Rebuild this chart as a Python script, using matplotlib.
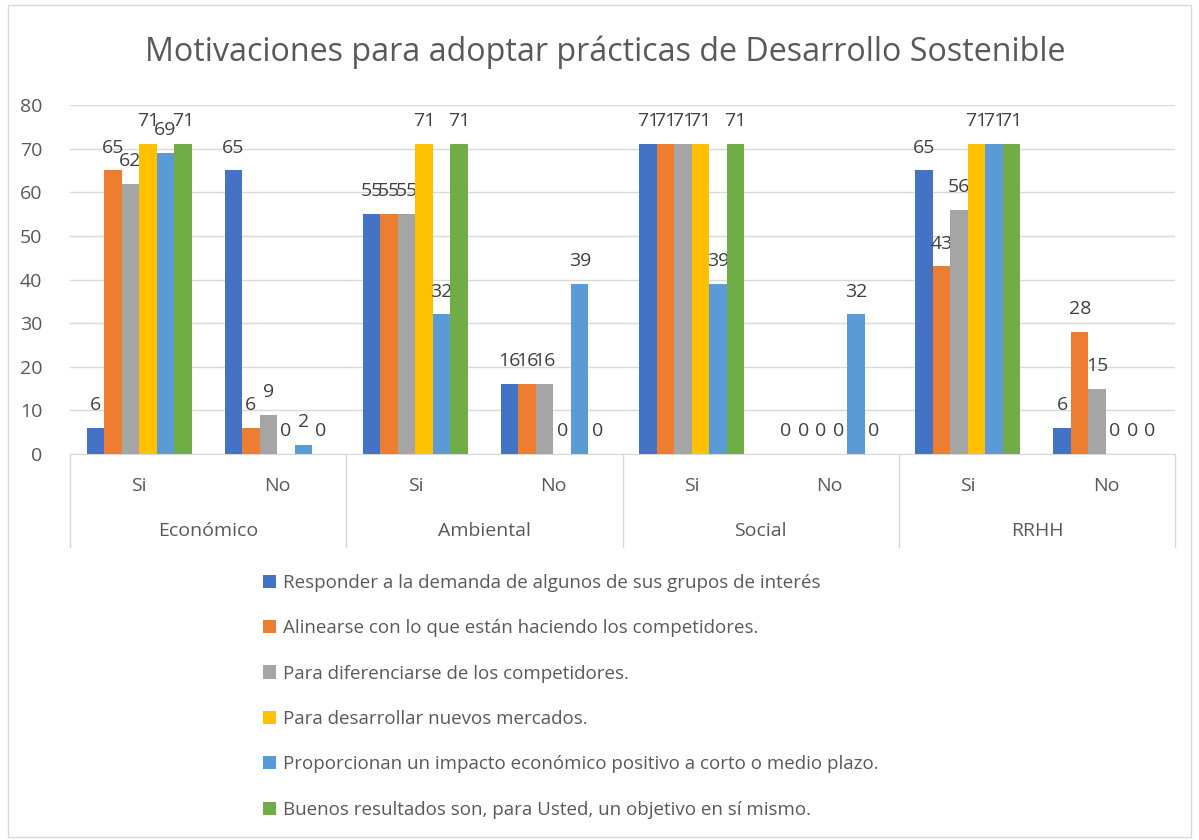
import numpy as np
import matplotlib.pyplot as plt
from matplotlib.patches import Rectangle
from matplotlib.transforms import blended_transform_factory

plt.rcParams['font.family'] = ['Open Sans', 'DejaVu Sans']

# datos
categorias = ['Económico', 'Ambiental', 'Social', 'RRHH']
respuestas = ['Si', 'No']
series = [
    'Responder a la demanda de algunos de sus grupos de interés',
    'Alinearse con lo que están haciendo los competidores.',
    'Para diferenciarse de los competidores.',
    'Para desarrollar nuevos mercados.',
    'Proporcionan un impacto económico positivo a corto o medio plazo.',
    'Buenos resultados son, para Usted, un objetivo en sí mismo.',
]
# orden: Eco Si, Eco No, Amb Si, Amb No, Soc Si, Soc No, RRHH Si, RRHH No
responder = [6, 65, 55, 16, 71, 0, 65, 6]
alinearse = [65, 6, 55, 16, 71, 0, 43, 28]
diferenciarse = [62, 9, 55, 16, 71, 0, 56, 15]
mercados = [71, 0, 71, 0, 71, 0, 71, 0]
impacto = [69, 2, 32, 39, 39, 32, 71, 0]
resultados = [71, 0, 71, 0, 71, 0, 71, 0]
valores = [responder, alinearse, diferenciarse, mercados, impacto, resultados]
colores = ['#4472C4', '#ED7D31', '#A5A5A5', '#FFC000', '#5B9BD5', '#70AD47']

gris = '#595959'

fig = plt.figure(figsize=(11.99, 8.4), dpi=100)
ax = fig.add_axes([0.0584, 0.4595, 0.9216, 0.4155])

x = np.arange(8)
n = len(valores)
w = 0.76 / n
barras = []
for i, (vals, c) in enumerate(zip(valores, colores)):
    b = ax.bar(x + (i - (n - 1) / 2) * w, vals, w, color=c, label=series[i], zorder=3)
    ax.bar_label(b, padding=10, fontsize=14, color='#404040')
    barras.append(b)

ax.set_ylim(0, 80)
ax.set_xlim(-0.5, 7.5)
ax.set_yticks(range(0, 81, 10))
ax.tick_params(axis='y', length=0, pad=20, labelsize=14, labelcolor=gris)
ax.set_xticks([])
ax.grid(axis='y', color='#d9d9d9', lw=1, zorder=0)
for s in ['top', 'right', 'left']:
    ax.spines[s].set_visible(False)
ax.spines['bottom'].set_color('#d9d9d9')

# eje de categorias en dos niveles
tr = blended_transform_factory(ax.transData, ax.transAxes)
for k in range(8):
    ax.text(k, -0.092, respuestas[k % 2], transform=tr, ha='center', va='center',
            fontsize=14, color=gris)
for j, cat in enumerate(categorias):
    ax.text(2 * j + 0.5, -0.221, cat, transform=tr, ha='center', va='center',
            fontsize=14, color=gris)
for xb in [-0.5, 1.5, 3.5, 5.5, 7.5]:
    ax.plot([xb, xb], [0, -0.266], transform=tr, color='#d9d9d9', lw=1, clip_on=False)

fig.text(0.505, 0.938, 'Motivaciones para adoptar prácticas de Desarrollo Sostenible',
         ha='center', va='center', fontsize=23.2, color=gris)

fig.legend(handles=barras, loc='upper left', bbox_to_anchor=(0.205, 0.337),
           frameon=False, fontsize=13.5, labelcolor=gris, handlelength=0.7,
           handleheight=0.7, handletextpad=0.4, labelspacing=1.46)

fig.patches.append(Rectangle((0.007, 0.004), 0.986, 0.99, transform=fig.transFigure,
                             fill=False, edgecolor='#d9d9d9', lw=1))

plt.savefig('out.png', dpi=100)
